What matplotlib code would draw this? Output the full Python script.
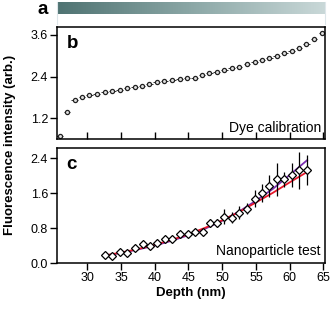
import numpy as np
import matplotlib
matplotlib.use("Agg")
import matplotlib.pyplot as plt
from matplotlib.colors import LinearSegmentedColormap

plt.rcParams['font.family'] = ['Liberation Sans', 'DejaVu Sans']

# ---- data ----
depth_b = [25.9, 27.0, 28.1, 29.2, 30.3, 31.4, 32.6, 33.7, 34.8, 35.9, 37.0, 38.1,
           39.2, 40.3, 41.4, 42.6, 43.7, 44.8, 45.9, 47.0, 48.1, 49.2, 50.3, 51.4,
           52.5, 53.7, 54.8, 55.9, 57.0, 58.1, 59.2, 60.3, 61.4, 62.5, 63.6, 64.8]
dye = [0.70, 1.37, 1.72, 1.82, 1.87, 1.91, 1.95, 1.99, 2.02, 2.06, 2.10, 2.14,
       2.19, 2.24, 2.28, 2.31, 2.33, 2.35, 2.37, 2.45, 2.50, 2.54, 2.59, 2.64,
       2.69, 2.75, 2.81, 2.87, 2.93, 3.00, 3.07, 3.14, 3.23, 3.34, 3.47, 3.66]

depth_c = [32.6, 33.7, 34.9, 35.9, 37.1, 38.2, 39.3, 40.4, 41.5, 42.6, 43.8, 44.9,
           46.0, 47.1, 48.2, 49.2, 50.3, 51.5, 52.5, 53.7, 54.8, 55.9, 57.0, 58.1,
           59.2, 60.4, 61.4, 62.6]
nano = [0.18, 0.15, 0.25, 0.24, 0.35, 0.44, 0.38, 0.47, 0.55, 0.54, 0.67, 0.66,
        0.72, 0.72, 0.91, 0.92, 1.06, 1.04, 1.15, 1.25, 1.48, 1.61, 1.76, 1.92,
        1.92, 2.02, 2.13, 2.13]
nano_err = [0.03, 0.03, 0.03, 0.04, 0.04, 0.04, 0.04, 0.05, 0.05, 0.05, 0.06, 0.06,
            0.06, 0.06, 0.09, 0.10, 0.17, 0.13, 0.15, 0.12, 0.19, 0.21, 0.25, 0.38,
            0.17, 0.27, 0.42, 0.35]

fit_depth = [32.5, 35.0, 37.5, 40.0, 42.5, 45.0, 47.5, 50.0, 52.5, 55.0, 57.5, 60.0, 62.6]
fit_red = [0.17, 0.24, 0.32, 0.42, 0.53, 0.66, 0.81, 0.98, 1.17, 1.39, 1.61, 1.85, 2.09]
fit_purple = [0.17, 0.23, 0.31, 0.40, 0.51, 0.64, 0.79, 0.97, 1.18, 1.43, 1.70, 2.02, 2.36]

xticks = [30, 35, 40, 45, 50, 55, 60, 65]
yticks_b = [1.2, 2.4, 3.6]
yticks_c = [0.0, 0.8, 1.6, 2.4]

# ---- figure ----
W, H = 332, 309
fig = plt.figure(figsize=(W / 100, H / 100), dpi=100)

def rect(x0, y0, x1, y1):
    return [x0 / W, 1 - y1 / H, (x1 - x0) / W, (y1 - y0) / H]

XL = (25.5, 65.25)

# panel a: gradient bar
axa = fig.add_axes(rect(57, 2, 325, 23.5))
grad = np.linspace(0, 1, 256)[None, :]
cm = LinearSegmentedColormap.from_list('g', ['#4f7372', '#8ba7a6', '#c9d8d8'])
axa.imshow(grad, aspect='auto', cmap=cm, extent=(0, 1, 0.45, 1))
axa.set_xlim(0, 1)
axa.set_ylim(0, 1)
axa.set_xticks([])
axa.set_yticks([])
for s in ['top', 'bottom']:
    axa.spines[s].set_visible(False)
for s in ['left', 'right']:
    axa.spines[s].set_color('#dde6ea')
fig.text(43 / W, 1 - 9 / H, 'a', fontsize=13.5, fontweight='bold', ha='center', va='center')

# panel b
axb = fig.add_axes(rect(57, 27, 325, 139))
axb.errorbar(depth_b, dye, xerr=0.5, fmt='o', ms=3.0, mfc='#e0e0e0', mec='#222222',
             mew=0.9, ecolor='#333333', elinewidth=0.7, capsize=0)
axb.set_xlim(*XL)
axb.set_ylim(0.6, 3.83)
axb.set_yticks(yticks_b)
axb.set_yticklabels([f'{v:.1f}' for v in yticks_b])
axb.set_xticks(xticks)
axb.tick_params(axis='x', direction='in', length=5, labelbottom=False, width=1)
axb.tick_params(axis='y', direction='out', length=5, width=1, labelsize=9, pad=1.5)
axb.text(0.035, 0.93, 'b', transform=axb.transAxes, fontsize=13.5, fontweight='bold',
         ha='left', va='top')
axb.text(0.985, 0.04, 'Dye calibration', transform=axb.transAxes, fontsize=10,
         ha='right', va='bottom')

# panel c
axc = fig.add_axes(rect(57, 148, 325, 263))
axc.plot(fit_depth, fit_purple, color='#7a2fb0', lw=1.3, zorder=2)
axc.plot(fit_depth, fit_red, color='#e8182a', lw=1.3, zorder=2)
axc.errorbar(depth_c, nano, yerr=nano_err, xerr=0.4, fmt='D', ms=4.5, mfc='white',
             mec='black', mew=0.9, ecolor='black', elinewidth=0.9, capsize=0, zorder=3)
axc.set_xlim(*XL)
axc.set_ylim(0, 2.64)
axc.set_yticks(yticks_c)
axc.set_yticklabels([f'{v:.1f}' for v in yticks_c])
axc.set_xticks(xticks)
axc.tick_params(axis='both', direction='out', length=5, width=1, labelsize=9, pad=1.5)
axc.text(0.035, 0.93, 'c', transform=axc.transAxes, fontsize=13.5, fontweight='bold',
         ha='left', va='top')
axc.text(0.985, 0.04, 'Nanoparticle test', transform=axc.transAxes, fontsize=10,
         ha='right', va='bottom')
axc.set_xlabel('Depth (nm)', fontsize=9.5, fontweight='bold', labelpad=2)

for ax in (axb, axc):
    for s in ax.spines.values():
        s.set_linewidth(1.1)

fig.text(10 / W, 1 - 145 / H, 'Fluorescence intensity (arb.)', rotation=90,
         fontsize=9.5, fontweight='bold', ha='center', va='center')

fig.savefig('out.png', dpi=100)
